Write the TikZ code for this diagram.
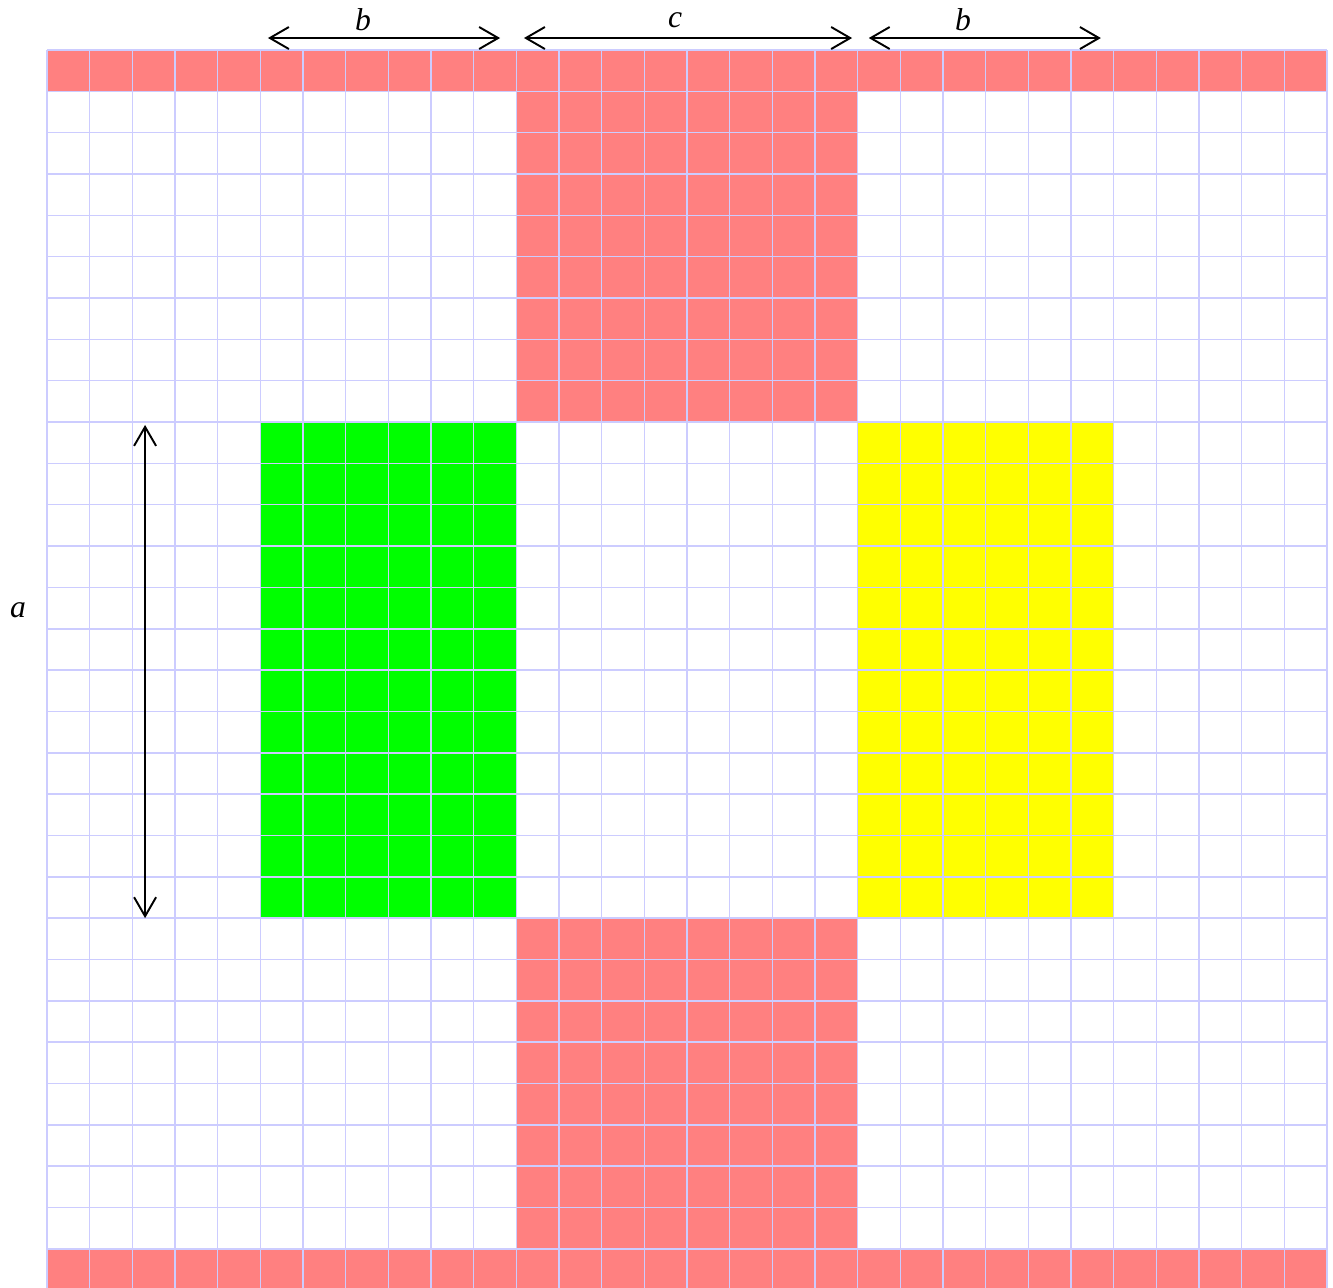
\documentclass[tikz,border=0pt]{standalone}
\usepackage{fontspec}
\setmainfont{Liberation Serif}
\usepackage{tikz}
\usetikzlibrary{arrows.meta, positioning}

\definecolor{cellred}{RGB}{255,128,128}
\definecolor{cellgreen}{RGB}{0,255,0}
\definecolor{cellyellow}{RGB}{255,255,0}
\definecolor{gridblue}{RGB}{204,204,255}

\begin{document}
\begin{tikzpicture}[x=0.8533cm, y=0.8267cm,
            cellgrid/.style={draw=gridblue, line width=0.85pt, xstep=0.8533cm, ystep=0.8267cm},
            dimarrow/.style={<->, line width=1.1pt},
            dimlabel/.style={font=\fontsize{18}{20}\selectfont\itshape},
            >={Straight Barb[length=0.38cm, width=0.44cm]}]

            \useasboundingbox (-1.1,0.07) rectangle (30.14,31.21);

            % red rows and columns
            \fill[cellred] (0,29) rectangle (30,30);
            \fill[cellred] (0,0) rectangle (30,1);
            \fill[cellred] (11,21) rectangle (19,29);
            \fill[cellred] (11,1) rectangle (19,9);
            % side blocks
            \fill[cellgreen] (5,9) rectangle (11,21);
            \fill[cellyellow] (19,9) rectangle (25,21);

            \draw[cellgrid] (0,0) grid (30,30);

            \coordinate (bl1) at (5.18,30.29);
            \coordinate (br1) at (10.62,30.29);
            \coordinate (cl) at (11.18,30.29);
            \coordinate (cr) at (18.87,30.29);
            \coordinate (bl2) at (19.26,30.29);
            \coordinate (br2) at (24.70,30.29);
            \coordinate (atop) at (2.30,20.93);
            \coordinate (abot) at (2.30,9.0);

            \draw[dimarrow] (bl1) -- (br1);
            \draw[dimarrow] (cl) -- (cr);
            \draw[dimarrow] (bl2) -- (br2);
            \draw[dimarrow] (atop) -- (abot);

            \node[dimlabel] (lblb1) at (7.41,30.73) {b};
            \node[dimlabel] (lblc) at (14.72,30.73) {c};
            \node[dimlabel] (lblb2) at (21.47,30.73) {b};
            \node[dimlabel] (lbla) at (-0.68,16.45) {a};
        \end{tikzpicture}
\end{document}
